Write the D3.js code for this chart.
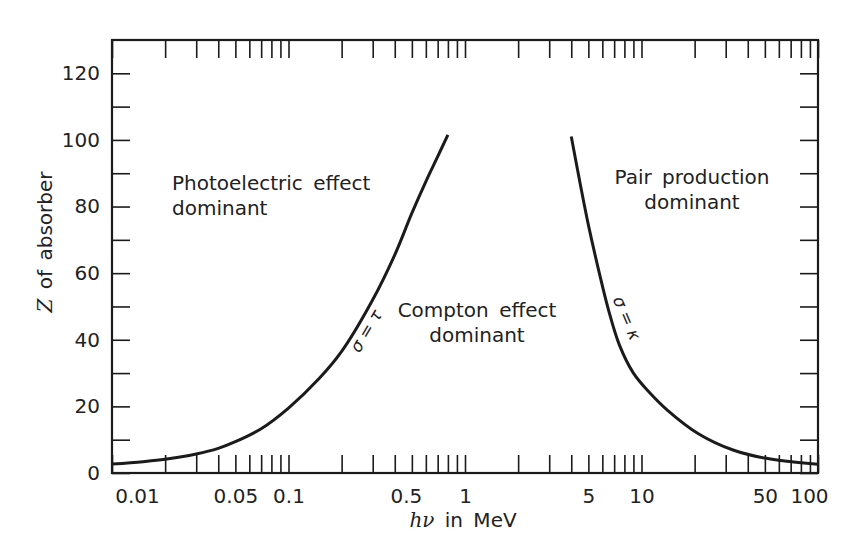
<!DOCTYPE html>
<html>
<head>
<meta charset="utf-8">
<script src="https://cdn.jsdelivr.net/npm/d3@7"></script>
<style>
  html, body { margin: 0; padding: 0; background: #fff; }
  svg { display: block; font-family: "DejaVu Sans", sans-serif; }
</style>
</head>
<body>
<svg id="chart" width="850" height="550"></svg>
<script>
// ---- data ----
const xTickLabels = ["0.01", "0.05", "0.1", "0.5", "1", "5", "10", "50", "100"];
const yTickLabels = [0, 20, 40, 60, 80, 100, 120];
const yMinorTicks = [0, 10, 20, 30, 40, 50, 60, 70, 80, 90, 100, 110, 120];
// sigma = tau  (photoelectric = Compton)
const photoE = [0.01, 0.015, 0.02, 0.03, 0.04, 0.05, 0.07, 0.1, 0.15, 0.2, 0.3, 0.4, 0.5, 0.6, 0.7, 0.8];
const photoZ = [2.7, 3.4, 4.1, 5.7, 7.4, 9.4, 13.3, 19.5, 28.5, 36.5, 52, 65.5, 78, 87.5, 95, 101.5];
// sigma = kappa (Compton = pair production)
const pairE = [4.0, 4.5, 5.0, 5.8, 6.5, 7.5, 9.0, 11, 14, 21, 33, 51, 100];
const pairZ = [101, 86.7, 74.5, 59.5, 49, 38.4, 30, 24.4, 18.9, 11.8, 6.9, 4.4, 2.6];

// ---- layout ----
const svg = d3.select("#chart");
const L = 112, R = 818, T = 40, B = 473;
const ink = "#1b1b1b";

const x = d3.scaleLog().domain([0.01, 100]).range([L, R]);
const y = d3.scaleLinear().domain([0, 130]).range([B, T]);

// all log ticks 1..9 x 10^k
const xMinor = [];
for (let k = -2; k <= 1; k++) for (let m = 1; m <= 9; m++) xMinor.push(+(m * Math.pow(10, k)).toPrecision(3));
xMinor.push(100);
const labelSet = new Set(xTickLabels.map(Number));

const tickLen = 18;

const gB = svg.append("g").attr("transform", `translate(0,${B})`)
  .call(d3.axisBottom(x).tickValues(xMinor).tickSize(-tickLen).tickSizeOuter(0).tickPadding(16)
    .tickFormat(d => labelSet.has(d) ? xTickLabels.find(s => Number(s) === d) : ""));
const gT = svg.append("g").attr("transform", `translate(0,${T})`)
  .call(d3.axisTop(x).tickValues(xMinor).tickSize(-tickLen).tickSizeOuter(0).tickFormat(""));
const gL = svg.append("g").attr("transform", `translate(${L},0)`)
  .call(d3.axisLeft(y).tickValues(yMinorTicks).tickSize(-tickLen).tickSizeOuter(0).tickPadding(12)
    .tickFormat(d => yTickLabels.includes(d) ? String(d) : ""));
const gR = svg.append("g").attr("transform", `translate(${R},0)`)
  .call(d3.axisRight(y).tickValues(yMinorTicks).tickSize(-tickLen).tickSizeOuter(0).tickFormat(""));

[gB, gT, gL, gR].forEach(g => {
  g.select(".domain").remove();
  g.selectAll(".tick line").attr("stroke", ink).attr("stroke-width", 1.6);
  g.selectAll(".tick text").attr("fill", "#222").style("font-size", "20px")
    .style("font-family", "'DejaVu Sans', sans-serif");
});
gB.selectAll(".tick text").attr("dx", d => d === 0.01 ? 25 : (d === 100 ? -9 : (d === 0.5 ? -6 : 0)));

// frame
svg.append("rect").attr("x", L).attr("y", T).attr("width", R - L).attr("height", B - T)
  .attr("fill", "none").attr("stroke", ink).attr("stroke-width", 2.2);

// curves
const line = d3.line().x(d => x(d[0])).y(d => y(d[1])).curve(d3.curveCatmullRom.alpha(0.5));
svg.append("path").datum(d3.zip(photoE, photoZ)).attr("d", line)
  .attr("fill", "none").attr("stroke", ink).attr("stroke-width", 3);
svg.append("path").datum(d3.zip(pairE, pairZ)).attr("d", line)
  .attr("fill", "none").attr("stroke", ink).attr("stroke-width", 3);

// region labels
function label(lines, px, py, anchor) {
  const t = svg.append("text").attr("fill", "#222").style("font-size", "20px")
    .attr("text-anchor", anchor).style("word-spacing", "4px");
  lines.forEach((s, i) => t.append("tspan").attr("x", px).attr("y", py + i * 25).text(s));
}
label(["Photoelectric effect", "dominant"], 172, 190, "start");
label(["Compton effect", "dominant"], 477, 317, "middle");
label(["Pair production", "dominant"], 692, 184, "middle");

// curve annotations
svg.append("text").attr("transform", "translate(366,331) rotate(-59)")
  .attr("text-anchor", "middle").attr("dy", "0.35em").attr("fill", "#222")
  .style("font-size", "17px").style("font-style", "italic").text("σ = τ");
svg.append("text").attr("transform", "translate(627,318) rotate(67)")
  .attr("text-anchor", "middle").attr("dy", "0.35em").attr("fill", "#222")
  .style("font-size", "17px").style("font-style", "italic").text("σ = κ");

// axis titles
const xt = svg.append("text").attr("x", 463).attr("y", 527).attr("text-anchor", "middle")
  .attr("fill", "#222").style("font-size", "20px").style("word-spacing", "4px");
xt.append("tspan").style("font-style", "italic").style("font-family", "'DejaVu Serif', serif").text("hν");
xt.append("tspan").text(" in MeV");

const yt = svg.append("text").attr("transform", "translate(52,242) rotate(-90)")
  .attr("text-anchor", "middle").attr("fill", "#222").style("font-size", "20px").style("word-spacing", "3px");
yt.append("tspan").style("font-style", "italic").style("font-family", "'DejaVu Serif', serif").text("Z");
yt.append("tspan").text(" of absorber");
</script>
</body>
</html>
